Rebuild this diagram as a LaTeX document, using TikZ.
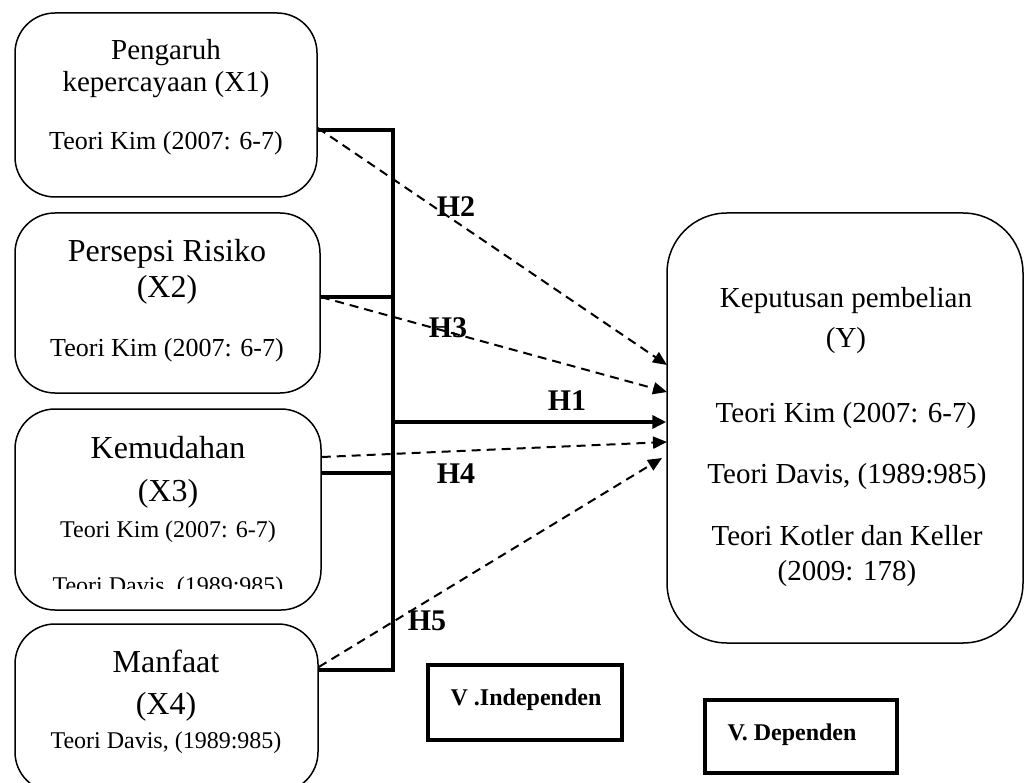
\documentclass[tikz,border=0pt]{standalone}
\usepackage{fontspec}
\setmainfont{Liberation Serif}
\usetikzlibrary{arrows.meta}

\begin{document}
\begin{tikzpicture}[x=1pt,y=-1pt,
  varbox/.style={draw, line width=1.5pt, rounded corners=40pt, inner sep=0pt},
  labelbox/.style={draw, line width=4pt, inner sep=0pt},
  txt/.style={anchor=base, inner sep=0pt},
  fsA/.style={font=\fontsize{29}{34}\selectfont},
  fsB/.style={font=\fontsize{32}{36}\selectfont},
  fsC/.style={font=\fontsize{26}{30}\selectfont},
  fsD/.style={font=\fontsize{24}{28}\selectfont},
  hyp/.style={txt, font=\bfseries\fontsize{30}{34}\selectfont},
  vlab/.style={txt, font=\bfseries\fontsize{24}{28}\selectfont},
  bracket/.style={line width=4pt},
  dasharrow/.style={line width=2pt, dash pattern=on 9pt off 6pt,
    -{Triangle[length=14pt,width=12pt]}},
  solidarrow/.style={line width=4pt, -{Triangle[length=14pt,width=13pt]}}]

\clip (0,0) rectangle (1024,783);

% variable boxes
\node[varbox, minimum width=302pt, minimum height=184pt] (x1) at (166,105) {};
\node[varbox, minimum width=305pt, minimum height=180pt] (x2) at (167.5,303) {};
\node[varbox, minimum width=306pt, minimum height=201pt] (x3) at (168,509.5) {};
\node[varbox, minimum width=303pt, minimum height=168pt] (x4) at (166.5,708) {};
\node[varbox, rounded corners=60pt, minimum width=356pt, minimum height=430pt] (y) at (845,428) {};

% texts of X1
\node[txt, fsA] (x1a) at (166,60) {Pengaruh};
\node[txt, fsA] (x1b) at (166,92) {kepercayaan (X1)};
\node[txt, fsC] (x1c) at (166,150) {Teori Kim (2007: 6-7)};

% texts of X2
\node[txt, fsB] (x2a) at (167,262) {Persepsi Risiko};
\node[txt, fsB] (x2b) at (167,298) {(X2)};
\node[txt, fsC] (x2c) at (167,356) {Teori Kim (2007: 6-7)};

% texts of X3
\node[txt, fsB] (x3a) at (168,458) {Kemudahan};
\node[txt, fsB] (x3b) at (168,501) {(X3)};
\node[txt, fsD] (x3c) at (168,537) {Teori Kim (2007: 6-7)};
\begin{scope}
  \clip (20,560) rectangle (316,588);
  \node[txt, fsD] (x3d) at (168,593) {Teori Davis, (1989:985)};
\end{scope}

% texts of X4
\node[txt, fsB] (x4a) at (166,672) {Manfaat};
\node[txt, fsB] (x4b) at (166,714) {(X4)};
\node[txt, fsD] (x4c) at (166,748) {Teori Davis, (1989:985)};

% texts of Y
\node[txt, fsA] (ya) at (846,307) {Keputusan pembelian};
\node[txt, fsA] (yb) at (846,347) {(Y)};
\node[txt, fsA] (yc) at (846,422) {Teori Kim (2007: 6-7)};
\node[txt, fsA] (yd) at (847,483) {Teori Davis, (1989:985)};
\node[txt, fsA] (ye) at (847,545) {Teori Kotler dan Keller};
\node[txt, fsA] (yf) at (847,580) {(2009: 178)};

% bracket joining the independent variables
\coordinate (b1) at (393,130);
\coordinate (b2) at (393,297);
\coordinate (b3) at (393,473);
\coordinate (b4) at (393,670);
\coordinate (bm) at (393,422);
\draw[bracket] (x1.east |- b1) -- (b1) -- (b4) -- (x4.east |- b4);
\draw[bracket] (x2.east |- b2) -- (b2);
\draw[bracket] (x3.east |- b3) -- (b3);
\draw[solidarrow] (bm) -- (y.west |- bm);

% partial hypotheses
\coordinate (s2) at (318,128);
\coordinate (t2) at (667,365);
\coordinate (s3) at (321,297);
\coordinate (t3) at (667,392);
\coordinate (s4) at (322,457);
\coordinate (t4) at (667,442);
\coordinate (s5) at (318,667);
\coordinate (t5) at (662,458);
\draw[dasharrow] (x1.east |- s2) -- (t2);
\draw[dasharrow] (x2.east |- s3) -- (t3);
\draw[dasharrow] (x3.east |- s4) -- (t4);
\draw[dasharrow] (x4.east |- s5) -- (t5);

% hypothesis labels
\node[hyp] (h1) at (567,410) {H1};
\node[hyp] (h2) at (456,217) {H2};
\node[hyp] (h3) at (448,337) {H3};
\node[hyp] (h4) at (456,483) {H4};
\node[hyp] (h5) at (427,630) {H5};

% legend boxes
\node[labelbox, minimum width=194pt, minimum height=75pt] (vind) at (525,702.5) {};
\node[vlab] (vindt) at (526,705) {V .Independen};
\node[labelbox, minimum width=192pt, minimum height=73pt] (vdep) at (801,736.5) {};
\node[vlab] (vdept) at (792,740) {V. Dependen};
\end{tikzpicture}
\end{document}
